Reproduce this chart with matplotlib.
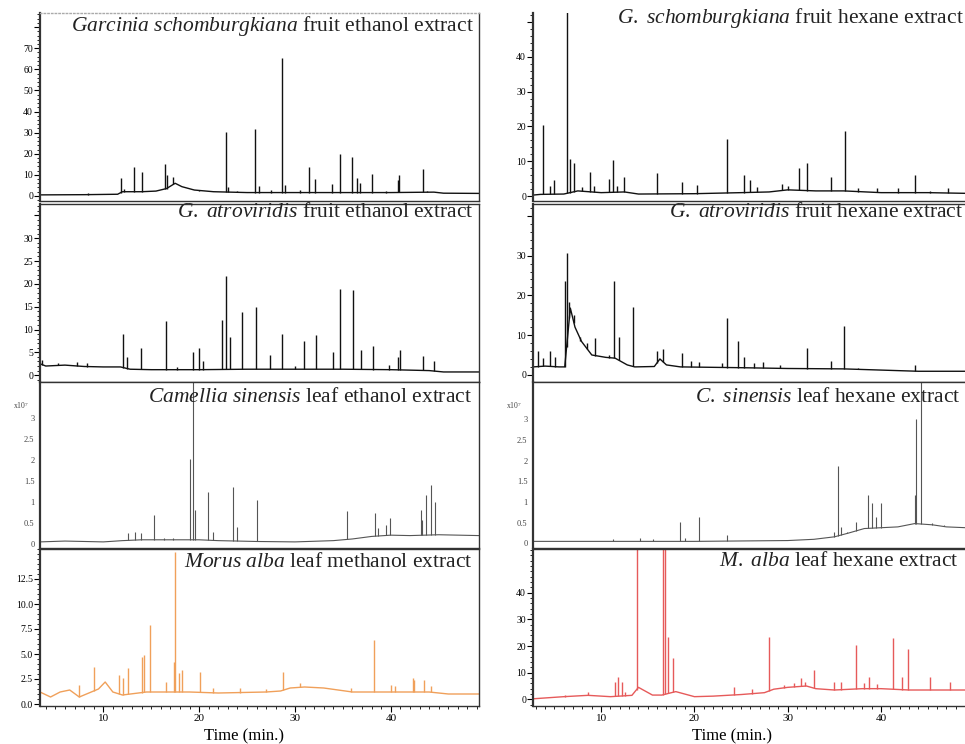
import numpy as np
import matplotlib
matplotlib.use("Agg")
import matplotlib.pyplot as plt
from matplotlib.ticker import MultipleLocator, FixedLocator, FixedFormatter

plt.rcParams['font.family'] = 'Liberation Serif'
plt.rcParams['mathtext.fontset'] = 'custom'
plt.rcParams['mathtext.rm'] = 'Liberation Serif'
plt.rcParams['mathtext.it'] = 'Liberation Serif:italic'

# ---- G. schomburgkiana fruit ethanol extract (row 1, left)
gse_base_t = [3.4, 8.0, 11.5, 12.0, 14.0, 15.5, 16.6, 17.5, 18.2, 19.5, 21.5, 25.0, 30.0, 35.0, 40.0, 44.5, 45.5, 49.2]
gse_base_y = [0.5, 0.6, 0.8, 2.0, 2.0, 2.3, 3.5, 6.0, 4.4, 2.8, 2.0, 1.6, 1.6, 1.6, 1.6, 1.8, 1.3, 1.2]
gse_pk_t = [8.4, 11.8, 12.2, 13.2, 14.0, 16.4, 16.6, 17.3, 20.0, 22.8, 23.0, 24.0, 25.8, 26.2, 27.5, 28.6,
            29.0, 30.5, 31.5, 32.1, 33.9, 34.7, 36.0, 36.5, 36.8, 38.0, 39.5, 40.7, 40.9, 43.4, 43.8]
gse_pk_h = [1.2, 8.4, 3.5, 13.9, 11.5, 15.0, 10.0, 9.0, 2.5, 30.5, 4.0, 2.5, 31.6, 4.5, 3.0, 65.2,
            5.0, 3.0, 13.9, 8.0, 5.5, 19.7, 18.6, 8.7, 6.0, 10.3, 2.5, 7.6, 10.0, 13.0, 2.5]

# ---- G. schomburgkiana fruit hexane extract (row 1, right)
gsh_base_t = [2.7, 3.5, 6.0, 7.5, 10.0, 12.5, 14.0, 20.0, 25.0, 28.0, 30.0, 33.0, 36.0, 40.0, 45.0, 49.1]
gsh_base_y = [0.3, 0.5, 0.6, 1.5, 1.0, 1.2, 0.6, 0.7, 1.0, 1.2, 1.8, 1.5, 1.5, 1.0, 1.0, 0.8]
gsh_pk_t = [3.8, 4.5, 4.9, 6.3, 6.7, 7.1, 7.9, 8.8, 9.2, 10.8, 11.3, 11.7, 12.5, 16.0, 18.7, 20.3,
            23.5, 25.3, 26.0, 26.7, 29.4, 30.0, 31.2, 32.1, 34.6, 36.1, 37.5, 39.6, 41.8, 43.6, 45.2, 47.2]
gsh_pk_h = [20.4, 3.0, 4.6, 55.0, 10.8, 9.4, 2.7, 7.0, 3.0, 5.0, 10.3, 3.0, 5.5, 6.5, 4.0, 3.3,
            16.3, 6.2, 4.6, 2.7, 3.6, 3.0, 8.0, 9.4, 5.5, 18.7, 2.2, 2.2, 2.4, 6.0, 1.5, 2.4]

# ---- G. atroviridis fruit ethanol extract (row 2, left)
gae_base_t = [3.4, 4.0, 6.0, 8.0, 10.0, 11.8, 12.8, 15.0, 20.0, 25.0, 30.0, 35.0, 40.0, 44.0, 45.5, 49.2]
gae_base_y = [2.5, 2.0, 2.2, 1.9, 1.8, 1.8, 1.3, 1.2, 1.2, 1.3, 1.3, 1.3, 1.2, 1.0, 0.7, 0.7]
gae_pk_t = [3.6, 5.3, 7.25, 8.3, 12.05, 12.5, 13.9, 16.55, 17.7, 19.4, 20.0, 20.4, 22.4, 22.85, 23.2,
            24.5, 25.9, 27.4, 28.6, 30.0, 30.9, 32.15, 34.0, 34.7, 36.1, 36.85, 38.1, 39.8, 40.7, 41.0, 43.4, 44.5]
gae_pk_h = [3.3, 2.6, 2.8, 2.6, 9.1, 4.0, 6.0, 11.9, 1.8, 5.1, 5.9, 3.0, 12.0, 21.7, 8.4,
            13.9, 15.0, 4.4, 9.1, 2.0, 7.5, 8.8, 5.1, 18.8, 18.7, 5.5, 6.4, 2.3, 4.0, 5.5, 4.2, 3.1]

# ---- G. atroviridis fruit hexane extract (row 2, right)
gah_base_t = [2.7, 4.0, 5.5, 6.1, 6.7, 7.2, 7.9, 9.0, 10.5, 11.5, 12.8, 13.6, 15.7, 16.3, 17.0, 18.5,
              25.0, 30.0, 36.0, 40.0, 44.0, 49.1]
gah_base_y = [2.0, 2.2, 2.0, 2.0, 16.8, 12.0, 8.4, 5.0, 4.4, 4.2, 2.5, 2.0, 2.1, 4.0, 2.5, 2.0,
              1.8, 1.6, 1.5, 1.2, 0.9, 0.9]
gah_pk_t = [3.26, 3.8, 4.5, 5.05, 6.1, 6.3, 6.6, 7.1, 7.7, 8.5, 9.35, 10.8, 11.4, 11.9, 13.4, 16.0,
            16.6, 18.7, 19.6, 20.5, 23.0, 23.5, 24.7, 25.3, 26.4, 27.4, 29.2, 32.1, 34.6, 36.05, 37.5, 43.6]
gah_pk_h = [6.0, 4.2, 5.9, 4.6, 23.5, 30.6, 18.4, 15.1, 8.4, 8.0, 9.4, 5.0, 23.6, 9.6, 17.2, 5.9,
            6.5, 5.4, 3.6, 3.3, 3.0, 14.2, 8.4, 4.4, 3.0, 3.3, 2.5, 6.7, 3.4, 12.2, 1.8, 2.5]

# ---- Camellia sinensis leaf ethanol extract (row 3, left), x10^7
cse_base_t = [3.4, 6.0, 10.0, 12.0, 14.0, 18.0, 20.0, 22.0, 26.0, 30.0, 34.0, 36.0, 38.0, 40.0, 42.0, 45.0, 49.2]
cse_base_y = [0.05, 0.07, 0.05, 0.08, 0.1, 0.1, 0.1, 0.08, 0.06, 0.05, 0.08, 0.12, 0.18, 0.21, 0.2, 0.22, 0.2]
cse_pk_t = [12.6, 13.35, 13.9, 15.25, 16.3, 17.3, 19.0, 19.35, 19.6, 20.9, 21.4, 23.55, 23.96, 26.0,
            35.45, 38.4, 38.7, 39.5, 39.9, 43.2, 43.3, 43.65, 44.2, 44.6]
cse_pk_h = [0.25, 0.29, 0.27, 0.69, 0.15, 0.15, 2.03, 3.9, 0.8, 1.24, 0.29, 1.36, 0.41, 1.05,
            0.78, 0.73, 0.37, 0.45, 0.61, 0.81, 0.57, 1.16, 1.4, 1.0]

# ---- C. sinensis leaf hexane extract (row 3, right), x10^7
csh_base_t = [2.7, 10.0, 20.0, 30.0, 32.8, 35.0, 36.5, 38.2, 41.8, 43.6, 45.5, 47.0, 49.1]
csh_base_y = [0.05, 0.05, 0.05, 0.07, 0.1, 0.16, 0.25, 0.36, 0.4, 0.48, 0.45, 0.4, 0.38]
csh_pk_t = [11.3, 14.2, 15.6, 18.5, 19.0, 20.5, 23.5, 35.0, 35.35, 35.7, 36.4, 37.3, 38.6, 39.0,
            39.5, 40.0, 43.6, 43.75, 44.3, 44.6, 45.5, 46.7]
csh_pk_h = [0.1, 0.12, 0.1, 0.52, 0.12, 0.64, 0.2, 0.28, 1.87, 0.4, 0.28, 0.52, 1.17, 0.98,
            0.64, 0.98, 1.17, 3.0, 3.9, 0.47, 0.5, 0.45]

# ---- Morus alba leaf methanol extract (row 4, left)
mam_base_t = [3.4, 4.5, 5.5, 6.5, 7.5, 8.5, 9.5, 10.2, 11.0, 12.0, 14.5, 19.0, 22.0, 27.0, 28.5,
              29.5, 31.0, 33.0, 34.5, 36.0, 40.0, 44.0, 46.0, 49.2]
mam_base_y = [1.2, 0.7, 1.2, 1.4, 0.7, 1.1, 1.5, 2.2, 1.2, 0.9, 1.2, 1.2, 1.1, 1.2, 1.3,
              1.6, 1.7, 1.6, 1.4, 1.2, 1.2, 1.2, 1.0, 1.0]
mam_pk_t = [7.5, 9.0, 11.6, 12.1, 12.6, 14.0, 14.2, 14.85, 16.5, 17.35, 17.5, 17.9, 18.2, 20.1,
            21.5, 24.3, 27.0, 28.8, 30.5, 35.8, 38.25, 40.0, 40.4, 42.3, 42.4, 43.45, 44.2]
mam_pk_h = [1.9, 3.7, 2.9, 2.6, 3.6, 4.7, 4.9, 7.9, 2.2, 4.2, 15.2, 3.1, 3.4, 3.2,
            1.6, 1.6, 1.5, 3.2, 2.1, 1.6, 6.4, 1.9, 1.8, 2.6, 2.4, 2.4, 1.8]

# ---- M. alba leaf hexane extract (row 4, right)
mah_base_t = [2.7, 6.0, 8.6, 11.0, 13.3, 14.0, 15.5, 16.5, 18.0, 20.0, 22.0, 25.0, 27.5, 28.5,
              30.0, 32.0, 33.0, 35.0, 38.0, 40.0, 43.0, 49.1]
mah_base_y = [0.2, 1.0, 1.5, 1.0, 1.5, 4.5, 1.6, 1.6, 2.9, 1.0, 1.2, 1.8, 2.5, 3.8,
              4.5, 5.0, 4.0, 3.5, 4.0, 4.0, 3.5, 3.5]
mah_pk_t = [6.1, 8.6, 11.5, 11.85, 12.2, 12.6, 13.8, 16.6, 16.8, 17.2, 17.65, 24.2, 26.2, 28.0,
            29.6, 30.7, 31.4, 31.9, 32.8, 35.0, 35.7, 37.3, 38.2, 38.7, 39.6, 41.3, 42.2, 42.9, 45.2, 47.4]
mah_pk_h = [1.5, 2.9, 6.6, 8.5, 6.4, 2.9, 60.0, 60.0, 60.0, 23.5, 15.4, 4.75, 3.9, 23.5,
            5.4, 6.0, 7.9, 6.6, 11.0, 6.4, 6.6, 20.4, 6.0, 8.5, 5.6, 22.9, 8.5, 18.9, 8.5, 6.4]

titles = [
    (r'$\mathit{Garcinia\ schomburgkiana}$ fruit ethanol extract', r'$\mathit{G.\ schomburgkiana}$ fruit hexane extract'),
    (r'$\mathit{G.\ atroviridis}$ fruit ethanol extract', r'$\mathit{G.\ atroviridis}$ fruit hexane extract'),
    (r'$\mathit{Camellia\ sinensis}$ leaf ethanol extract', r'$\mathit{C.\ sinensis}$ leaf hexane extract'),
    (r'$\mathit{Morus\ alba}$ leaf methanol extract', r'$\mathit{M.\ alba}$ leaf hexane extract'),
]

panels = [
    [(gse_base_t, gse_base_y, gse_pk_t, gse_pk_h), (gsh_base_t, gsh_base_y, gsh_pk_t, gsh_pk_h)],
    [(gae_base_t, gae_base_y, gae_pk_t, gae_pk_h), (gah_base_t, gah_base_y, gah_pk_t, gah_pk_h)],
    [(cse_base_t, cse_base_y, cse_pk_t, cse_pk_h), (csh_base_t, csh_base_y, csh_pk_t, csh_pk_h)],
    [(mam_base_t, mam_base_y, mam_pk_t, mam_pk_h), (mah_base_t, mah_base_y, mah_pk_t, mah_pk_h)],
]

colors = [['#111111', '#111111'], ['#111111', '#111111'], ['#555555', '#555555'], ['#f0a05a', '#e65a5a']]
ylims = [[(-2.4, 86.7), (-1.4, 52.6)], [(-1.5, 37.5), (-1.8, 43.0)],
         [(-0.095, 3.85), (-0.11, 3.9)], [(-0.2, 15.5), (-2.5, 56.4)]]
yticks = [[(np.arange(0, 81, 10), [str(v) for v in range(0, 71, 10)] + [''], 2),
           (np.arange(0, 51, 10), ['0', '10', '20', '30', '40', ''], 2)],
          [(np.arange(0, 36, 5), [str(v) for v in range(0, 31, 5)] + [''], 1),
           (np.arange(0, 41, 10), ['0', '10', '20', '30', ''], 2)],
          [(np.arange(0, 3.01, 0.5), ['0', '0.5', '1', '1.5', '2', '2.5', '3'], None),
           (np.arange(0, 3.01, 0.5), ['0', '0.5', '1', '1.5', '2', '2.5', '3'], None)],
          [(np.arange(0, 12.6, 2.5), ['0.0', '2.5', '5.0', '7.5', '10.0', '12.5'], 0.5),
           (np.arange(0, 41, 10), ['0', '10', '20', '30', '40'], 2)]]
xlims = [(3.4, 49.2), (2.7, 49.1)]
title_pos = [[(0.989, 0.93), (0.995, 0.975)], [(0.989, 0.955), (0.995, 0.955)],
             [(0.985, 0.905), (0.988, 0.905)], [(0.985, 0.912), (0.983, 0.92)]]

W, H = 965, 744
rows_px = [(13, 201), (204, 382), (382, 548), (549, 706)]
cols_px = [(40, 479), (533, 966)]

fig = plt.figure(figsize=(9.65, 7.44), dpi=100)

for r in range(4):
    for c in range(2):
        top, bot = rows_px[r]
        left, right = cols_px[c]
        ax = fig.add_axes([left / W, 1 - bot / H, (right - left) / W, (bot - top) / H])
        bt, by, pt, ph = panels[r][c]
        col = colors[r][c]
        lw = 0.8 if r == 2 else 1.0
        ax.plot(bt, by, color=col, lw=lw)
        ax.vlines(pt, np.interp(pt, bt, by), ph, color=col, lw=lw)
        ax.set_xlim(*xlims[c])
        ax.set_ylim(*ylims[r][c])

        ticks, labels, minor = yticks[r][c]
        ax.yaxis.set_major_locator(FixedLocator(ticks))
        ax.yaxis.set_major_formatter(FixedFormatter(labels))
        if minor:
            ax.yaxis.set_minor_locator(MultipleLocator(minor))
        if r == 2:
            ax.tick_params(axis='y', which='both', length=0, pad=4, labelsize=6, labelcolor='#444444')
            ax.text(-0.025, 0.86, r'x10$^7$', transform=ax.transAxes, ha='right', va='center',
                    fontsize=5.5, color='#444444')
        else:
            ax.tick_params(axis='y', which='major', length=4, width=0.8, pad=1, labelsize=7)
            ax.tick_params(axis='y', which='minor', length=2, width=0.6)

        if r == 3:
            ax.xaxis.set_major_locator(MultipleLocator(10))
            ax.xaxis.set_minor_locator(MultipleLocator(1))
            ax.tick_params(axis='x', which='major', length=4, width=0.8, pad=2, labelsize=8)
            ax.tick_params(axis='x', which='minor', length=2, width=0.6)
            ax.set_xlabel('Time (min.)', fontsize=12)
            ax.xaxis.set_label_coords(0.465 if c == 0 else 0.46, -0.14)
        else:
            ax.set_xticks([])

        for s in ax.spines.values():
            s.set_color('#333333')
            s.set_linewidth(1.0)
        ax.spines['left'].set_linewidth(1.6)
        if c == 1:
            ax.spines['right'].set_visible(False)
        if r == 0:
            ax.spines['top'].set_color('#aaaaaa')
            ax.spines['top'].set_linestyle(':')
            if c == 1:
                ax.spines['top'].set_visible(False)

        tx, ty = title_pos[r][c]
        ax.text(tx, ty, titles[r][c], transform=ax.transAxes, ha='right', va='center',
                fontsize=15.5, color='#222222', clip_on=False)

fig.savefig('out.png', dpi=100)
